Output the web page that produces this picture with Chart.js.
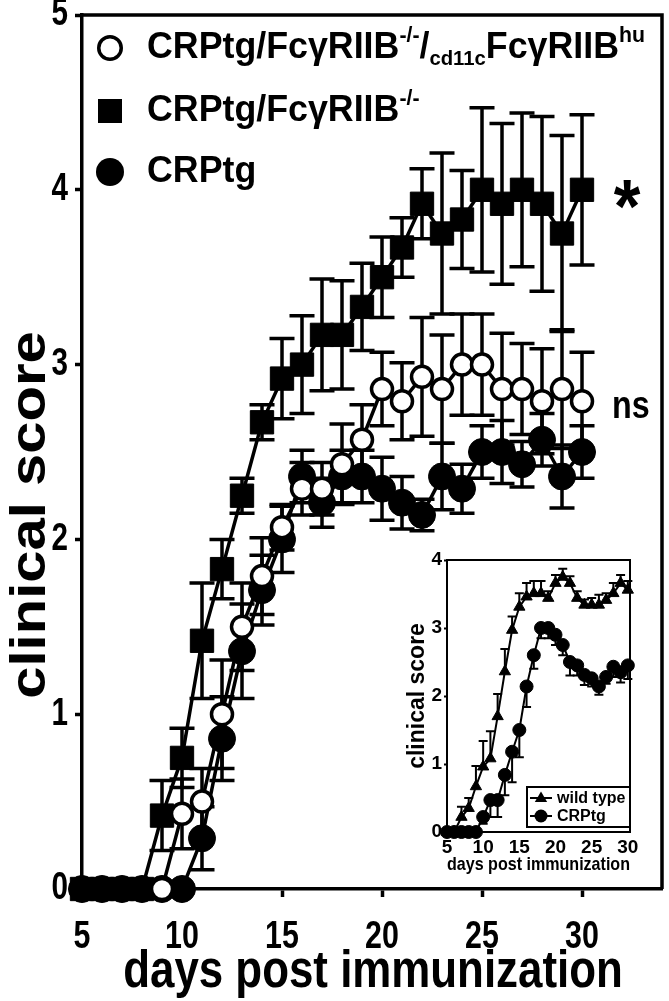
<!DOCTYPE html>
<html>
<head>
<meta charset="utf-8">
<script src="https://cdn.jsdelivr.net/npm/chart.js@4.4.1/dist/chart.umd.min.js"></script>
<style>
  html, body { margin: 0; padding: 0; background: #fff; }
  #wrap { position: relative; width: 669px; height: 1001px; overflow: hidden; }
  #mainChart { position: absolute; left: 0; top: 0; }
  #insetChart { position: absolute; left: 400px; top: 545px; }
</style>
</head>
<body>
<div id="wrap">
  <canvas id="mainChart" width="669" height="1001"></canvas>
  <canvas id="insetChart" width="257" height="337"></canvas>
</div>
<script>
const FONT = "'Liberation Sans', Arial, Helvetica, sans-serif";

// main panel: days 5..30
const days = [5, 6, 7, 8, 9, 10, 11, 12, 13, 14, 15, 16, 17, 18, 19, 20, 21, 22, 23, 24, 25, 26, 27, 28, 29, 30];
const xTicks = [5, 10, 15, 20, 25, 30];
const yTicks = [0, 1, 2, 3, 4, 5];

// CRPtg/FcγRIIB-/-/cd11cFcγRIIBhu (open circles)
const openScore = [null, null, null, null, 0, 0.43, 0.5, 1.0, 1.5, 1.79, 2.07, 2.29, 2.29, 2.43, 2.57, 2.86, 2.79, 2.93, 2.86, 3.0, 3.0, 2.86, 2.86, 2.79, 2.86, 2.79];
const openErr = [null, null, null, null, 0, 0.2, 0.19, 0.31, 0.25, 0.22, 0.13, 0.15, 0.15, 0.23, 0.2, 0.21, 0.22, 0.34, 0.31, 0.29, 0.29, 0.32, 0.26, 0.3, 0.34, 0.28];

// CRPtg (filled circles)
const blackScore = [0, 0, 0, 0, 0, 0, 0.29, 0.86, 1.36, 1.71, 2.0, 2.36, 2.21, 2.36, 2.36, 2.29, 2.21, 2.14, 2.36, 2.29, 2.5, 2.5, 2.43, 2.57, 2.36, 2.5];
const blackErr = [0, 0, 0, 0, 0, 0, 0.18, 0.24, 0.27, 0.2, 0.19, 0.15, 0.14, 0.15, 0.15, 0.18, 0.15, 0.09, 0.19, 0.14, 0.15, 0.18, 0.13, 0.15, 0.18, 0.15];

// CRPtg/FcγRIIB-/- (filled squares)
const squareScore = [0, 0, 0, 0, 0.42, 0.75, 1.42, 1.83, 2.25, 2.67, 2.92, 3.0, 3.17, 3.17, 3.33, 3.5, 3.67, 3.92, 3.75, 3.83, 4.0, 3.92, 4.0, 3.92, 3.75, 4.0];
const squareErr = [0, 0, 0, 0, 0.2, 0.17, 0.33, 0.17, 0.1, 0.1, 0.23, 0.28, 0.32, 0.31, 0.25, 0.23, 0.17, 0.2, 0.46, 0.28, 0.47, 0.46, 0.44, 0.5, 0.56, 0.43];

// inset: wild type vs CRPtg
const insetXTicks = [5, 10, 15, 20, 25, 30];
const insetYTicks = [0, 1, 2, 3, 4];
const wildScore = [0, 0, 0.22, 0.35, 0.67, 0.96, 1.08, 1.7, 2.36, 2.97, 3.31, 3.46, 3.51, 3.51, 3.44, 3.66, 3.75, 3.66, 3.44, 3.34, 3.34, 3.34, 3.41, 3.51, 3.66, 3.56];
const wildErr = [0, 0, 0.15, 0.15, 0.3, 0.38, 0.4, 0.33, 0.33, 0.2, 0.2, 0.2, 0.18, 0.18, 0.1, 0.12, 0.12, 0.1, 0.1, 0.08, 0.1, 0.15, 0.1, 0.15, 0.12, 0.13];
const crpScore = [0, 0, 0, 0, 0, 0.22, 0.47, 0.47, 0.84, 1.18, 1.5, 2.14, 2.6, 3.0, 3.0, 2.9, 2.75, 2.5, 2.45, 2.31, 2.26, 2.14, 2.28, 2.43, 2.35, 2.45];
const crpErr = [0, 0, 0, 0, 0, 0.1, 0.25, 0.25, 0.3, 0.45, 0.4, 0.3, 0.2, 0.15, 0.15, 0.15, 0.15, 0.2, 0.15, 0.15, 0.12, 0.12, 0.1, 0.15, 0.15, 0.2];

function toPoints(values, up, down) {
  return days
    .map((d, i) => ({ x: d, y: values[i], up: up ? up[i] : 0, down: down ? down[i] : 0 }))
    .filter((p) => p.y !== null);
}

// bold text with its own horizontal / vertical squeeze (the figure uses a narrow face)
function drawText(ctx, text, x, y, size, sx, align, baseline, sy) {
  ctx.save();
  ctx.font = `bold ${size}px ${FONT}`;
  ctx.textBaseline = baseline || "middle";
  ctx.textAlign = "left";
  const w = ctx.measureText(text).width * sx;
  let left = x;
  if (align === "center") left = x - w / 2;
  if (align === "right") left = x - w;
  ctx.translate(left, y);
  ctx.scale(sx, sy || 1);
  ctx.fillStyle = "#000";
  ctx.fillText(text, 0, 0);
  ctx.restore();
  return w;
}

const errorBars = {
  id: "errorBars",
  beforeDatasetsDraw(chart, args, opts) {
    const { ctx } = chart;
    const xs = chart.scales.x;
    const ys = chart.scales.y;
    ctx.save();
    ctx.strokeStyle = "#000";
    ctx.lineWidth = opts.width;
    chart.data.datasets.forEach((ds) => {
      ds.data.forEach((p) => {
        if (!p.up && !p.down) return;
        const px = xs.getPixelForValue(p.x);
        const top = ys.getPixelForValue(p.y + (p.up || 0));
        const bot = ys.getPixelForValue(p.y - (p.down || 0));
        const half = opts.cap / 2;
        ctx.beginPath();
        ctx.moveTo(px, top);
        ctx.lineTo(px, bot);
        if (p.up) {
          ctx.moveTo(px - half, top);
          ctx.lineTo(px + half, top);
        }
        if (p.down) {
          ctx.moveTo(px - half, bot);
          ctx.lineTo(px + half, bot);
        }
        ctx.stroke();
      });
    });
    ctx.restore();
  },
};

function legendMarker(ctx, kind, x, y, r) {
  ctx.save();
  ctx.fillStyle = "#000";
  ctx.strokeStyle = "#000";
  ctx.beginPath();
  if (kind === "open") {
    ctx.lineWidth = 3.5;
    ctx.arc(x, y, r - 1.75, 0, Math.PI * 2);
    ctx.fillStyle = "#fff";
    ctx.fill();
    ctx.stroke();
  } else if (kind === "square") {
    ctx.rect(x - r, y - r, 2 * r, 2 * r);
    ctx.fill();
  } else if (kind === "triangle") {
    ctx.moveTo(x, y - r);
    ctx.lineTo(x + r * 0.95, y + r * 0.6);
    ctx.lineTo(x - r * 0.95, y + r * 0.6);
    ctx.closePath();
    ctx.fill();
  } else {
    ctx.arc(x, y, r, 0, Math.PI * 2);
    ctx.fill();
  }
  ctx.restore();
}

const mainDecor = {
  id: "mainDecor",
  afterDraw(chart) {
    const { ctx, chartArea } = chart;
    const xs = chart.scales.x;
    const ys = chart.scales.y;

    // frame top + right
    ctx.save();
    ctx.strokeStyle = "#000";
    ctx.lineWidth = 3.5;
    ctx.beginPath();
    ctx.moveTo(chartArea.left, chartArea.top);
    ctx.lineTo(chartArea.right, chartArea.top);
    ctx.lineTo(chartArea.right, chartArea.bottom);
    ctx.stroke();
    ctx.restore();

    // tick labels
    ys.ticks.forEach((t) => {
      drawText(ctx, String(t.value), chartArea.left - 14, ys.getPixelForValue(t.value), 38, 0.78, "right");
    });
    xs.ticks.forEach((t) => {
      drawText(ctx, String(t.value), xs.getPixelForValue(t.value), 938, 38, 0.8, "center");
    });

    // axis titles
    drawText(ctx, "days post immunization", (chartArea.left + chartArea.right) / 2 + 1, 973, 51, 0.86, "center");
    ctx.save();
    ctx.translate(31, 515);
    ctx.rotate(-Math.PI / 2);
    drawText(ctx, "clinical score", 0, 0, 58, 1.0, "center", "middle", 0.85);
    ctx.restore();

    // legend
    const sup = -12;
    const sub = 11;
    const rows = [
      { kind: "open", y: 48, parts: [["CRPtg/FcγRIIB", 37, 0], ["-/-", 22, sup], ["/", 37, 0], ["cd11c", 21, sub], ["FcγRIIB", 37, 0], ["hu", 22, sup]] },
      { kind: "square", y: 111, parts: [["CRPtg/FcγRIIB", 37, 0], ["-/-", 22, sup]] },
      { kind: "circle", y: 172, parts: [["CRPtg", 37, 0]] },
    ];
    let natural = 0;
    rows[0].parts.forEach((p) => {
      ctx.font = `bold ${p[1]}px ${FONT}`;
      natural += ctx.measureText(p[0]).width;
    });
    const sx = (645 - 147) / natural;
    rows.forEach((row) => {
      legendMarker(ctx, row.kind, 110, row.y, row.kind === "square" ? 12 : row.kind === "open" ? 13 : 14);
      let x = 147;
      row.parts.forEach((p) => {
        x += drawText(ctx, p[0], x, row.y + p[2], p[1], sx, "left");
      });
    });

    // significance marks
    drawText(ctx, "*", 627, 232, 76, 0.9, "center", "alphabetic");
    drawText(ctx, "ns", 612, 418, 38, 0.85, "left", "alphabetic");
  },
};

new Chart(document.getElementById("mainChart"), {
  type: "line",
  data: {
    datasets: [
      {
        label: "CRPtg/FcγRIIB-/-/cd11cFcγRIIBhu",
        data: toPoints(openScore, openErr, openErr),
        borderColor: "#000",
        borderWidth: 3.5,
        pointStyle: "circle",
        pointRadius: 10.5,
        pointBorderWidth: 3.5,
        pointBackgroundColor: "#fff",
        pointBorderColor: "#000",
        clip: false,
      },
      {
        label: "CRPtg",
        data: toPoints(blackScore, blackErr, blackErr),
        borderColor: "#000",
        borderWidth: 3.5,
        pointStyle: "circle",
        pointRadius: 13.5,
        pointBorderWidth: 1,
        pointBackgroundColor: "#000",
        pointBorderColor: "#000",
        clip: false,
      },
      {
        label: "CRPtg/FcγRIIB-/-",
        data: toPoints(squareScore, squareErr, squareErr),
        borderColor: "#000",
        borderWidth: 3.5,
        pointStyle: "rect",
        pointRadius: 16.5,
        pointBorderWidth: 1,
        pointBackgroundColor: "#000",
        pointBorderColor: "#000",
        clip: false,
      },
    ],
  },
  options: {
    responsive: false,
    animation: false,
    devicePixelRatio: 1,
    layout: { autoPadding: false, padding: { left: 0, top: 15, right: 7, bottom: 0 } },
    plugins: {
      legend: { display: false },
      tooltip: { enabled: false },
      errorBars: { width: 3.5, cap: 25 },
    },
    scales: {
      x: {
        type: "linear",
        min: 5,
        max: 34,
        afterBuildTicks: (s) => {
          s.ticks = xTicks.map((v) => ({ value: v }));
        },
        afterFit: (s) => {
          s.height = 112;
        },
        ticks: { display: false },
        grid: { drawOnChartArea: false, drawTicks: true, tickLength: 8, tickWidth: 3.5, tickColor: "#000" },
        border: { display: true, color: "#000", width: 3.5 },
      },
      y: {
        min: 0,
        max: 5,
        afterBuildTicks: (s) => {
          s.ticks = yTicks.map((v) => ({ value: v }));
        },
        afterFit: (s) => {
          s.width = 82;
        },
        ticks: { display: false },
        grid: { drawOnChartArea: false, drawTicks: true, tickLength: 7, tickWidth: 3.5, tickColor: "#000" },
        border: { display: true, color: "#000", width: 3.5 },
      },
    },
  },
  plugins: [errorBars, mainDecor],
});

const insetDecor = {
  id: "insetDecor",
  beforeDraw(chart) {
    const { ctx } = chart;
    ctx.save();
    ctx.fillStyle = "#fff";
    ctx.fillRect(0, 0, chart.width, chart.height);
    ctx.restore();
  },
  afterDraw(chart) {
    const { ctx, chartArea } = chart;
    ctx.save();
    ctx.strokeStyle = "#000";
    ctx.lineWidth = 2;
    ctx.strokeRect(chartArea.left, chartArea.top, chartArea.right - chartArea.left, chartArea.bottom - chartArea.top);

    // legend box in the lower right corner
    const l = chartArea.right - 103;
    const t = chartArea.bottom - 45;
    ctx.fillStyle = "#fff";
    ctx.fillRect(l, t, 103, 40);
    ctx.strokeRect(l, t, 103, 40);
    const rows = [
      { kind: "triangle", text: "wild type", y: t + 11 },
      { kind: "circle", text: "CRPtg", y: t + 29 },
    ];
    rows.forEach((row) => {
      ctx.beginPath();
      ctx.moveTo(l + 3, row.y);
      ctx.lineTo(l + 25, row.y);
      ctx.stroke();
      legendMarker(ctx, row.kind, l + 14, row.y, 6.5);
      drawText(ctx, row.text, l + 30, row.y + 1, 16, 1, "left");
    });
    ctx.restore();
  },
};

const insetFont = { family: FONT, weight: "bold", size: 19 };

new Chart(document.getElementById("insetChart"), {
  type: "line",
  data: {
    datasets: [
      {
        label: "wild type",
        data: toPoints(wildScore, wildErr, null),
        borderColor: "#000",
        borderWidth: 2,
        pointStyle: "triangle",
        pointRadius: 6.5,
        pointBorderWidth: 1,
        pointBackgroundColor: "#000",
        pointBorderColor: "#000",
        clip: false,
      },
      {
        label: "CRPtg",
        data: toPoints(crpScore, null, crpErr),
        borderColor: "#000",
        borderWidth: 2,
        pointStyle: "circle",
        pointRadius: 6.5,
        pointBorderWidth: 1,
        pointBackgroundColor: "#000",
        pointBorderColor: "#000",
        clip: false,
      },
    ],
  },
  options: {
    responsive: false,
    animation: false,
    devicePixelRatio: 1,
    layout: { autoPadding: false, padding: { left: 0, top: 15, right: 27, bottom: 0 } },
    plugins: {
      legend: { display: false },
      tooltip: { enabled: false },
      errorBars: { width: 2, cap: 9 },
    },
    scales: {
      x: {
        type: "linear",
        min: 5,
        max: 30.3,
        afterBuildTicks: (s) => {
          s.ticks = insetXTicks.map((v) => ({ value: v }));
        },
        afterFit: (s) => {
          s.height = 50;
          s.paddingLeft = 0;
          s.paddingRight = 0;
        },
        ticks: { font: insetFont, color: "#000", padding: 4, maxRotation: 0 },
        grid: { display: false, drawTicks: false },
        border: { display: true, color: "#000", width: 2 },
        title: {
          display: true,
          text: "days post immunization",
          font: insetFont,
          color: "#000",
          padding: { top: 0, bottom: 6 },
        },
      },
      y: {
        min: 0,
        max: 4,
        afterBuildTicks: (s) => {
          s.ticks = insetYTicks.map((v) => ({ value: v }));
        },
        afterFit: (s) => {
          s.width = 47;
          s.paddingTop = 0;
          s.paddingBottom = 0;
        },
        ticks: { font: insetFont, color: "#000", padding: 2 },
        grid: { drawOnChartArea: false, drawTicks: true, tickLength: 3, tickWidth: 2, tickColor: "#000" },
        border: { display: true, color: "#000", width: 2 },
        title: {
          display: true,
          text: "clinical score",
          font: { family: FONT, weight: "bold", size: 23 },
          color: "#000",
          padding: { top: 4, bottom: 0 },
        },
      },
    },
  },
  plugins: [errorBars, insetDecor],
});
</script>
</body>
</html>
